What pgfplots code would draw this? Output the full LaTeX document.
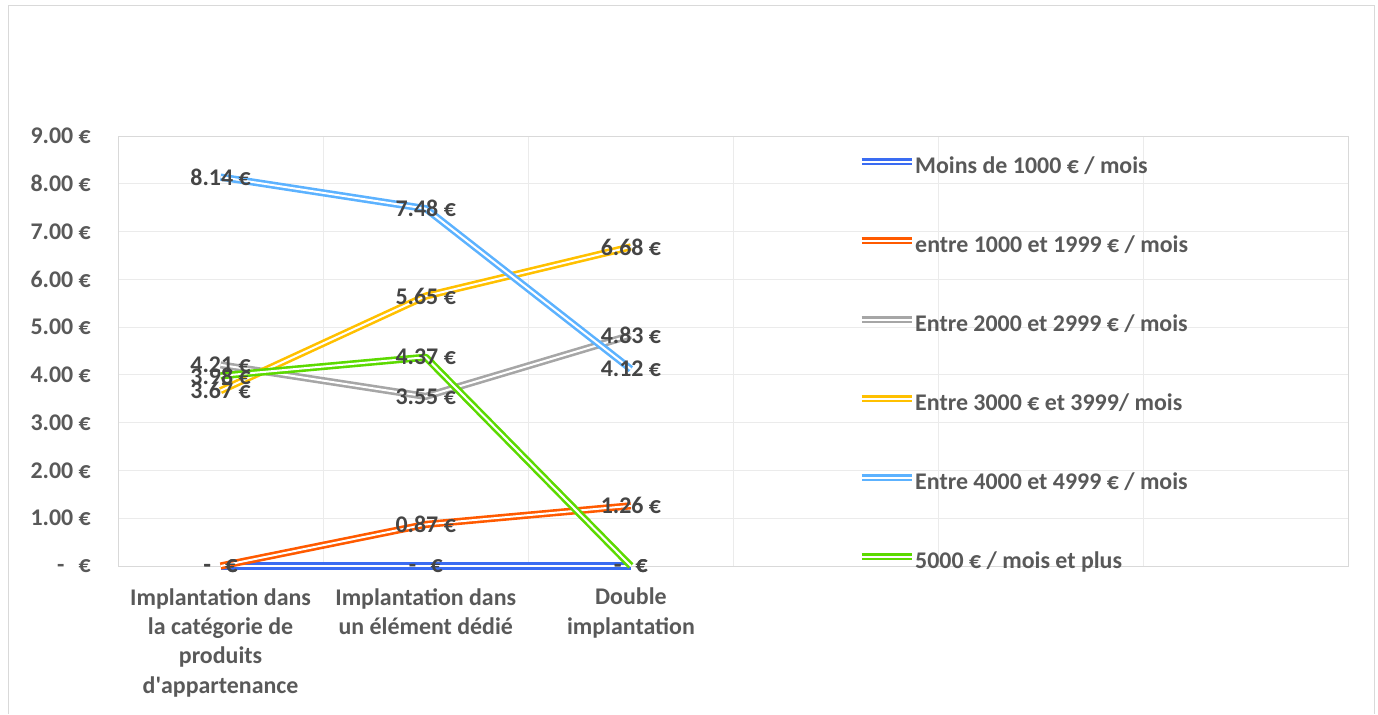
\documentclass[border=0pt]{standalone}
\usepackage{pgfplots}
\pgfplotsset{compat=1.18}
\usepackage{fontspec}
\setmainfont{Carlito}

\definecolor{tick}{HTML}{595959}
\definecolor{lblD}{HTML}{454545}
\definecolor{gridc}{HTML}{EBEBEB}
\definecolor{framec}{HTML}{D9D9D9}
\definecolor{cBlue}{HTML}{3A6CF2}
\definecolor{cOrange}{HTML}{FF5A00}
\definecolor{cGray}{HTML}{A6A6A6}
\definecolor{cGold}{HTML}{FFC000}
\definecolor{cSky}{HTML}{5CB2FF}
\definecolor{cGreen}{HTML}{5CDA00}

\pgfplotsset{
  dbl/.style={line width=2.6bp, double=white, double distance=2bp, line join=round},
}

\begin{document}
\begin{tikzpicture}
\path (0bp,0bp) rectangle (1378bp,-714bp);
\draw[framec, line width=1bp] (8bp,-714bp) -- (8bp,-5bp) -- (1374bp,-5bp) -- (1374bp,-714bp);

\begin{axis}[
  at={(118bp,-566bp)}, anchor=south west,
  scale only axis, width=1231bp, height=430bp,
  xmin=-0.5, xmax=5.5, ymin=0, ymax=9,
  xtick={0,1,2},
  xticklabels={{Implantation dans\\la catégorie de\\produits\\d\textquotesingle appartenance},
               {Implantation dans\\un élément dédié},
               {Double\\implantation}},
  minor xtick={0.5,1.5,2.5,3.5,4.5},
  ytick={0,1,...,9},
  yticklabels={{-\hspace{0.6em}€},1.00 €,2.00 €,3.00 €,4.00 €,5.00 €,6.00 €,7.00 €,8.00 €,9.00 €},
  xminorgrids, ymajorgrids,
  major tick length=0pt, minor tick length=0pt,
  axis line style={framec, line width=1bp},
  grid style={gridc, line width=1bp},
  minor grid style={gridc, line width=1bp},
  clip=false,
  font=\fontsize{24}{29.5}\selectfont\bfseries,
  yticklabel style={text=tick, anchor=east, inner sep=0pt, xshift=-27bp},
  xticklabel style={text=tick, anchor=north, align=center, inner sep=0pt, yshift=-22bp},
  point meta=explicit symbolic,
  nodes near coords,
  every node near coord/.append style={anchor=center, inner sep=0pt, text=lblD,
     font=\fontsize{24}{29}\selectfont\bfseries},
  legend cell align=left,
  legend image code/.code={\draw[#1] (0bp,7bp) -- (50bp,7bp);},
  legend style={draw=none, fill=none, at={(0.601,0.95)}, anchor=north west,
     inner sep=0pt, row sep=57bp, text=tick,
     font=\fontsize{24}{29}\selectfont\bfseries,
     nodes={inner sep=0pt, text height=16bp, text depth=6bp},
     /tikz/every even column/.append style={column sep=5bp}},
]

\addplot[dbl, draw=cBlue] coordinates {
  (0,0) [{-\hspace{0.6em}€}] (1,0) [{-\hspace{0.6em}€}] (2,0) [{-\hspace{0.6em}€}]
};
\addlegendentry{Moins de 1000 € / mois}

\addplot[dbl, draw=cOrange] coordinates {
  (0,0) [{-\hspace{0.6em}€}] (1,0.87) [0.87 €] (2,1.26) [1.26 €]
};
\addlegendentry{entre 1000 et 1999 € / mois}

\addplot[dbl, draw=cGray] coordinates {
  (0,4.21) [4.21 €] (1,3.55) [3.55 €] (2,4.83) [4.83 €]
};
\addlegendentry{Entre 2000 et 2999 € / mois}

\addplot[dbl, draw=cGold] coordinates {
  (0,3.67) [3.67 €] (1,5.65) [5.65 €] (2,6.68) [6.68 €]
};
\addlegendentry{Entre 3000 € et 3999/ mois}

\addplot[dbl, draw=cSky] coordinates {
  (0,8.14) [8.14 €] (1,7.48) [7.48 €] (2,4.12) [4.12 €]
};
\addlegendentry{Entre 4000 et 4999 € / mois}

\addplot[dbl, draw=cGreen] coordinates {
  (0,3.98) [3.98 €] (1,4.37) [4.37 €] (2,0) [{-\hspace{0.6em}€}]
};
\addlegendentry{5000 € / mois et plus}

\end{axis}
\end{tikzpicture}
\end{document}
